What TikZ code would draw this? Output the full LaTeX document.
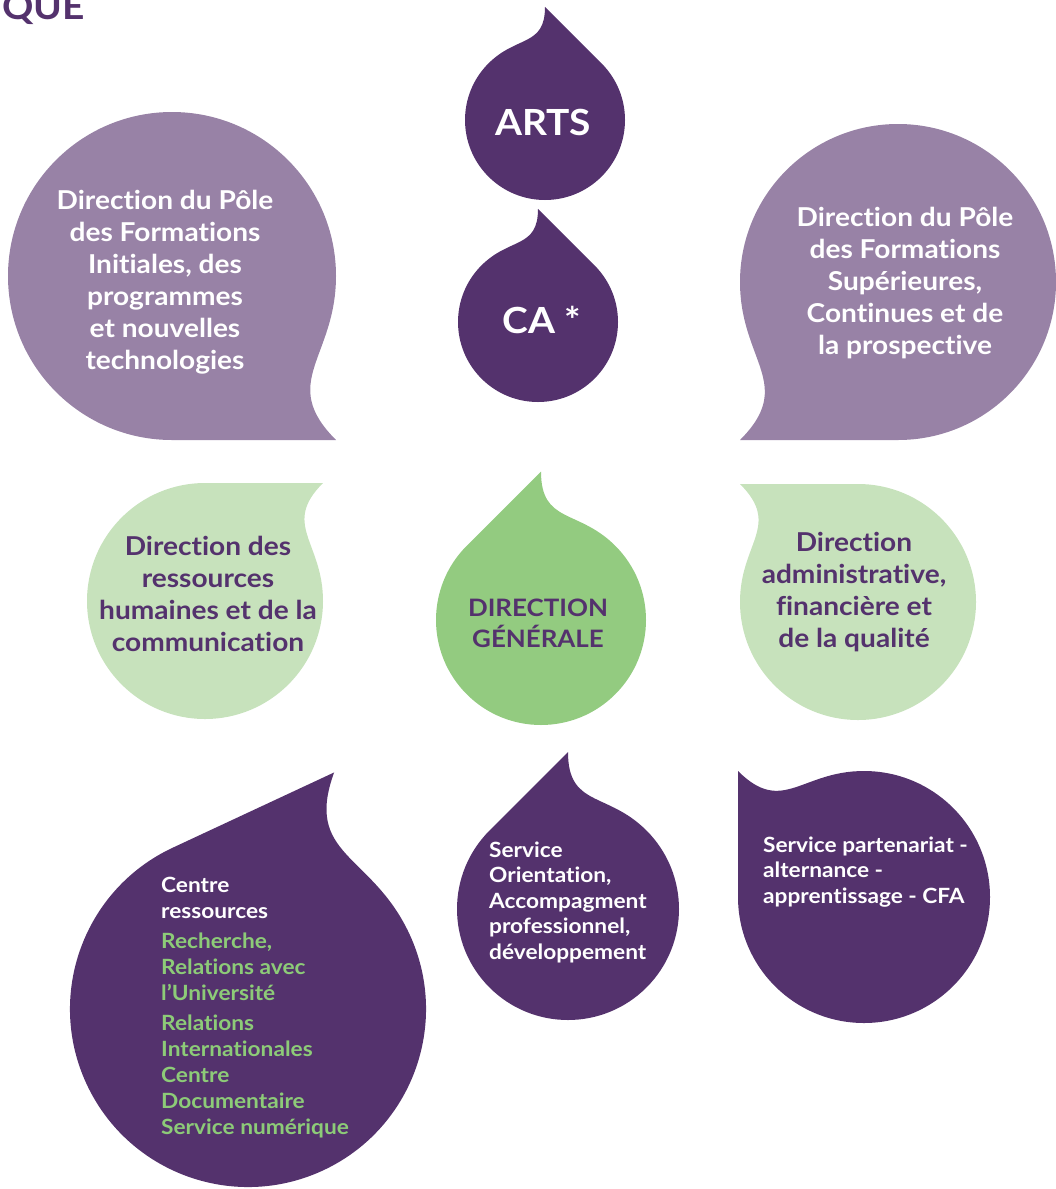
\documentclass[tikz,border=0pt]{standalone}
\usepackage{fontspec}
\setmainfont{Lato}[FakeStretch=1.08,Ligatures=NoCommon]
\usetikzlibrary{calc}

\definecolor{plum}{RGB}{84,50,109}
\definecolor{mauve}{RGB}{152,130,166}
\definecolor{palegreen}{RGB}{199,226,188}
\definecolor{leafgreen}{RGB}{147,203,128}
\definecolor{textgreen}{RGB}{141,203,120}

% teardrop: colour, centre, radius, tip angle, straight side (1 or -1)
\newcommand{\teardrop}[5]{%
  \fill[#1] ($(#2)+(#4:{1.4142*#3})$) -- ($(#2)+({#4+45*(#5)}:#3)$)
    arc[start angle={#4+45*(#5)}, end angle={#4+315*(#5)}, radius=#3]
    .. controls ($(#2)+({#4-45*(#5)}:#3)+({#4+45*(#5)}:{0.5*#3})$)
    and ($(#2)+(#4:{1.4142*#3})+({#4+180}:{0.5*#3})$)
    .. ($(#2)+(#4:{1.4142*#3})$) -- cycle;}

\begin{document}
\begin{tikzpicture}[x=1pt,y=1pt,
	bubtxt/.style={align=center,inner sep=0pt,font=\fontsize{26}{32}\selectfont\bfseries},
	smalltxt/.style={align=left,inner sep=0pt,anchor=west,text=white,font=\fontsize{21}{25.5}\selectfont\bfseries}]
	\useasboundingbox (0,0) rectangle (1056,-1189);
	
	% title, cut by the page
	\node[anchor=base east,inner sep=0pt,text=plum,font=\fontsize{36}{40}\selectfont\bfseries] (titre) at (85,-19) {QUE};
	
	% top row
	\teardrop{plum}{545,-120}{80}{90}{-1}
	\teardrop{plum}{538,-322}{80}{90}{-1}
	\teardrop{mauve}{172,-276}{164}{-45}{-1}
	\teardrop{mauve}{898,-282}{158}{-135}{1}
	
	\node[bubtxt,text=white,font=\fontsize{36}{40}\selectfont\bfseries] (arts) at (543,-122) {ARTS};
	\node[bubtxt,text=white,font=\fontsize{36}{40}\selectfont\bfseries] (ca) at (542,-320) {CA *};
	\node[bubtxt,text=white] (polefi) at (165,-282)
		{Direction du Pôle\\des Formations\\Initiales, des\\programmes\\et nouvelles\\technologies};
	\node[bubtxt,text=white] (polefs) at (905,-283)
		{Direction du Pôle\\des Formations\\Supérieures,\\Continues et de\\la prospective};
	
	% middle row
	\teardrop{palegreen}{205,-601}{118}{45}{1}
	\teardrop{palegreen}{858,-602}{118}{135}{-1}
	\teardrop{leafgreen}{541,-620}{105}{90}{1}
	
	\node[bubtxt,text=plum] (drh) at (208,-594)
		{Direction des\\ressources\\humaines et de la\\communication};
	\node[bubtxt,text=plum] (daf) at (854,-592)
		{Direction\\administrative,\\financière et\\de la qualité};
	\node[bubtxt,text=plum,font=\fontsize{24}{31}\selectfont\bfseries] (dg) at (538,-623)
		{DIRECTION\\GÉNÉRALE};
	
	% bottom row
	\teardrop{plum}{248,-1009}{178}{70}{1}
	\teardrop{plum}{568,-909}{111}{90}{1}
	\teardrop{plum}{864,-897}{126}{135}{1}
	
	\node[smalltxt,font=\fontsize{21}{26}\selectfont\bfseries] (centre) at (161,-1008)
		{Centre\\ressources\\[4pt]
		\textcolor{textgreen}{Recherche,}\\\textcolor{textgreen}{Relations avec}\\\textcolor{textgreen}{l’Université}\\[4pt]
		\textcolor{textgreen}{Relations}\\\textcolor{textgreen}{Internationales}\\
		\textcolor{textgreen}{Centre}\\\textcolor{textgreen}{Documentaire}\\
		\textcolor{textgreen}{Service numérique}};
	\node[smalltxt] (orient) at (489,-902)
		{Service\\Orientation,\\Accompagment\\professionnel,\\développement};
	\node[smalltxt] (cfa) at (763,-872)
		{Service partenariat -\\alternance -\\apprentissage - CFA};
\end{tikzpicture}
\end{document}
